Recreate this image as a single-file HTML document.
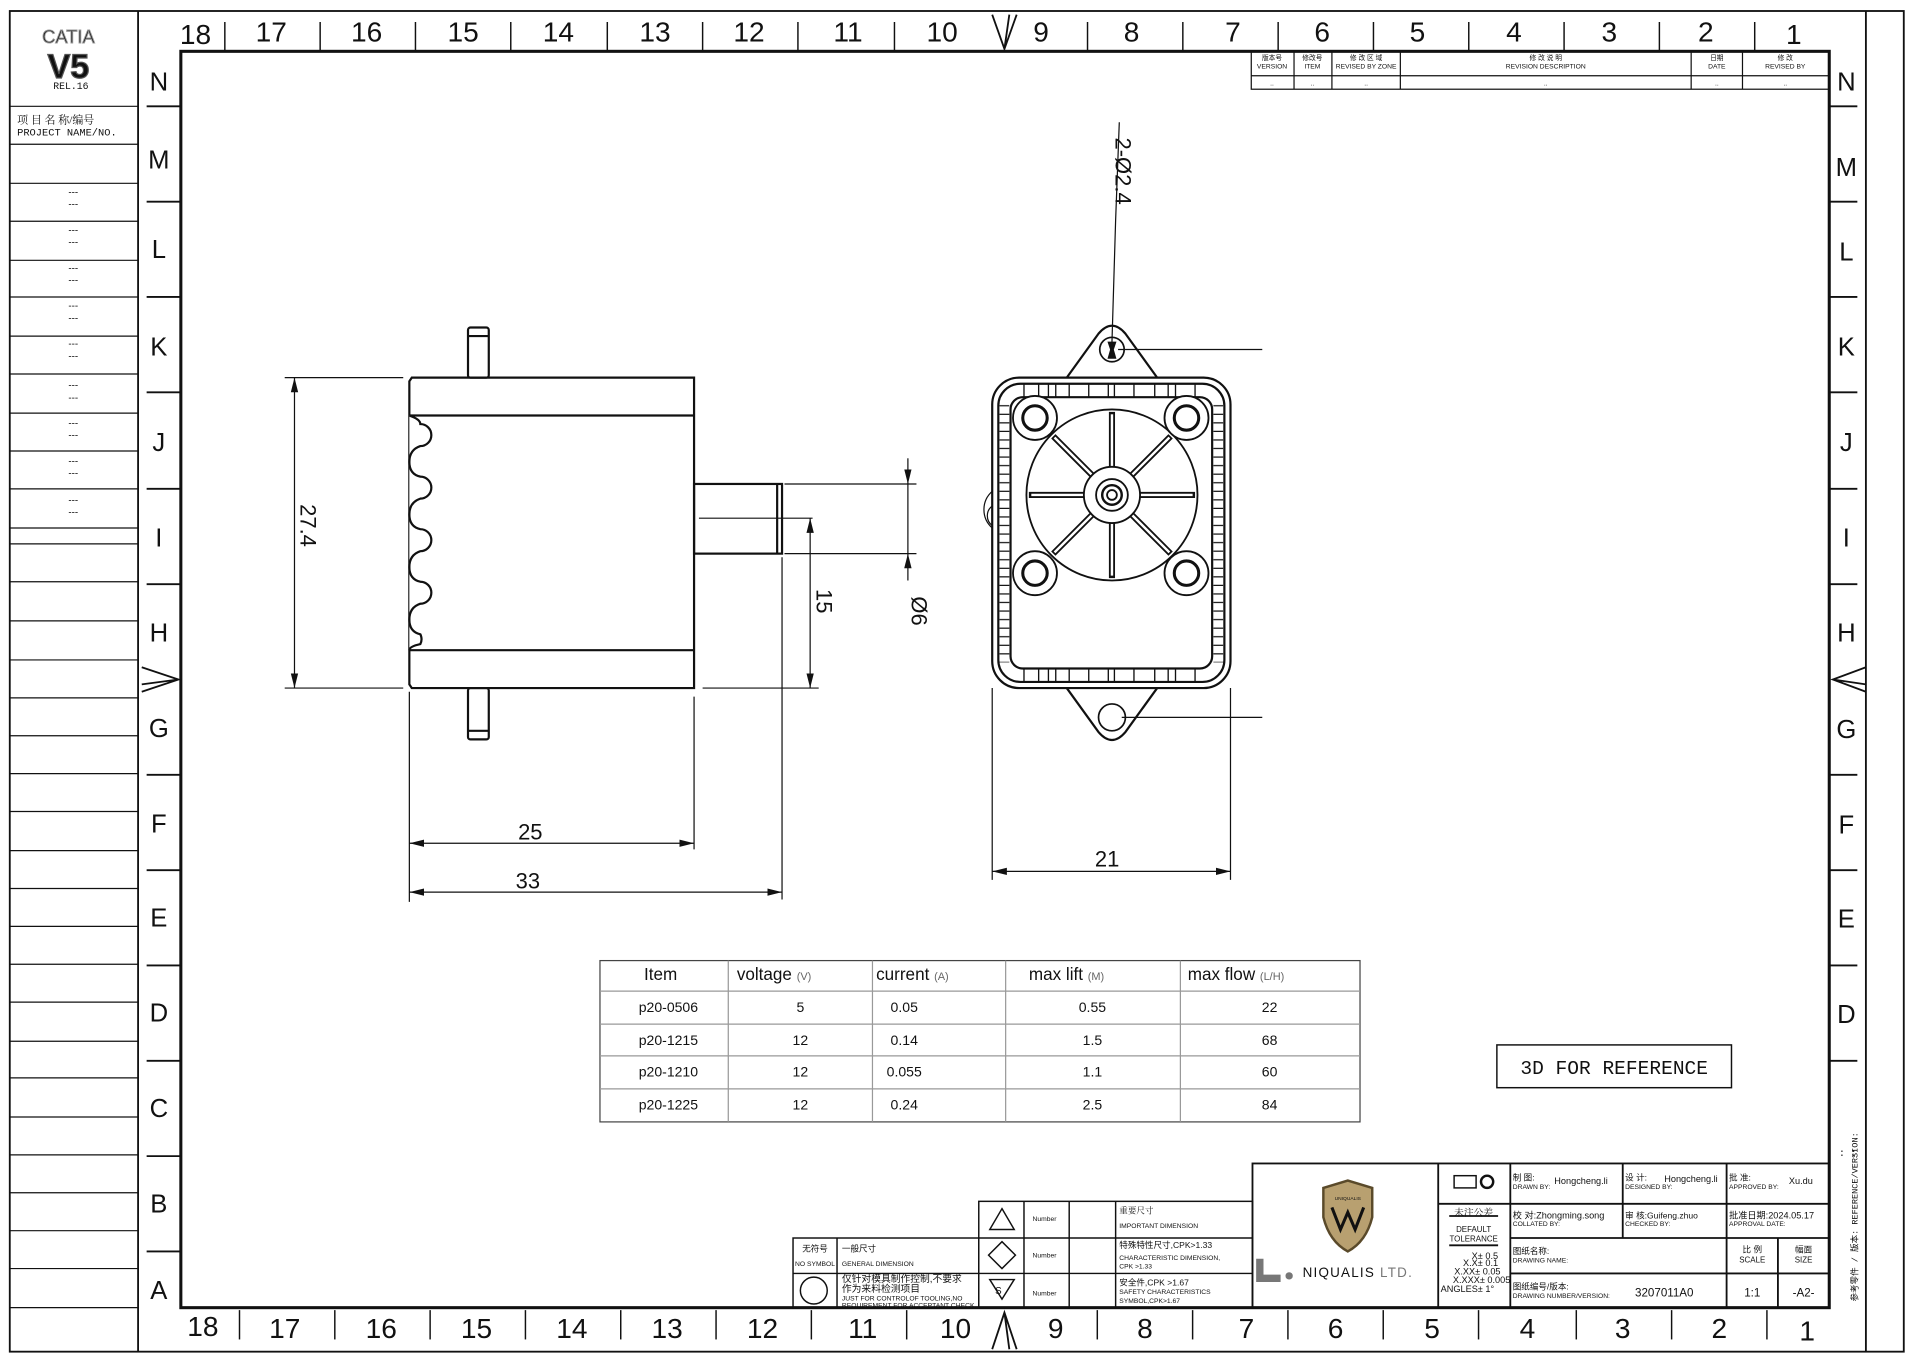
<!DOCTYPE html>
<html><head><meta charset="utf-8"><style>
html,body{margin:0;padding:0;background:#fff}
svg{display:block}
text{font-family:"Liberation Sans","Noto Sans CJK SC",sans-serif;fill:#111}
.m{font-family:"Liberation Mono","Noto Sans CJK SC",monospace}
.s{font-family:"Liberation Serif","Noto Serif CJK SC",serif}
</style></head><body>
<svg width="1916" height="1359" viewBox="0 0 1568 1112" preserveAspectRatio="none" xmlns="http://www.w3.org/2000/svg">
<defs>
<pattern id="hp" width="10" height="7" patternUnits="userSpaceOnUse"><line x1="0" y1="3" x2="10" y2="3" stroke="#111" stroke-width="1"/></pattern>
<pattern id="vp" width="8" height="10" patternUnits="userSpaceOnUse"><line x1="4" y1="0" x2="4" y2="10" stroke="#111" stroke-width="1"/></pattern>
<marker id="ar" markerWidth="12" markerHeight="8" refX="12" refY="4" orient="auto-start-reverse" markerUnits="userSpaceOnUse"><path d="M0,1 L12,4 L0,7 Z" fill="#111"/></marker>
</defs>
<g fill="none" stroke="#111">
<rect x="8" y="9" width="1550" height="1097" stroke-width="1.5"/>
<line x1="113" y1="9" x2="113" y2="1106" stroke-width="1.5"/>
<line x1="1527" y1="9" x2="1527" y2="1106" stroke-width="1.5"/>
<rect x="148" y="42" width="1349" height="1028" stroke-width="2.5"/>
<!-- top separators -->
<g stroke-width="1.2">
<line x1="184" y1="18" x2="184" y2="42"/><line x1="262" y1="18" x2="262" y2="42"/><line x1="340" y1="18" x2="340" y2="42"/><line x1="418" y1="18" x2="418" y2="42"/><line x1="497" y1="18" x2="497" y2="42"/><line x1="575" y1="18" x2="575" y2="42"/><line x1="653" y1="18" x2="653" y2="42"/><line x1="732" y1="18" x2="732" y2="42"/><line x1="890" y1="18" x2="890" y2="42"/><line x1="968" y1="18" x2="968" y2="42"/><line x1="1046" y1="18" x2="1046" y2="42"/><line x1="1124" y1="18" x2="1124" y2="42"/><line x1="1202" y1="18" x2="1202" y2="42"/><line x1="1280" y1="18" x2="1280" y2="42"/><line x1="1358" y1="18" x2="1358" y2="42"/><line x1="1436" y1="18" x2="1436" y2="42"/>
<line x1="196" y1="1072" x2="196" y2="1096"/><line x1="274" y1="1072" x2="274" y2="1096"/><line x1="352" y1="1072" x2="352" y2="1096"/><line x1="430" y1="1072" x2="430" y2="1096"/><line x1="508" y1="1072" x2="508" y2="1096"/><line x1="586" y1="1072" x2="586" y2="1096"/><line x1="664" y1="1072" x2="664" y2="1096"/><line x1="742" y1="1072" x2="742" y2="1096"/><line x1="898" y1="1072" x2="898" y2="1096"/><line x1="976" y1="1072" x2="976" y2="1096"/><line x1="1054" y1="1072" x2="1054" y2="1096"/><line x1="1132" y1="1072" x2="1132" y2="1096"/><line x1="1210" y1="1072" x2="1210" y2="1096"/><line x1="1290" y1="1072" x2="1290" y2="1096"/><line x1="1368" y1="1072" x2="1368" y2="1096"/><line x1="1446" y1="1072" x2="1446" y2="1096"/>
</g>
<!-- left/right letter separators -->
<g stroke-width="1.5">
<line x1="120" y1="87" x2="148" y2="87"/><line x1="120" y1="165" x2="148" y2="165"/><line x1="120" y1="243" x2="148" y2="243"/><line x1="120" y1="321" x2="148" y2="321"/><line x1="120" y1="400" x2="148" y2="400"/><line x1="120" y1="478" x2="148" y2="478"/><line x1="120" y1="634" x2="148" y2="634"/><line x1="120" y1="712" x2="148" y2="712"/><line x1="120" y1="790" x2="148" y2="790"/><line x1="120" y1="868" x2="148" y2="868"/><line x1="120" y1="946" x2="148" y2="946"/><line x1="120" y1="1024" x2="148" y2="1024"/>
<line x1="1497" y1="87" x2="1520" y2="87"/><line x1="1497" y1="165" x2="1520" y2="165"/><line x1="1497" y1="243" x2="1520" y2="243"/><line x1="1497" y1="321" x2="1520" y2="321"/><line x1="1497" y1="400" x2="1520" y2="400"/><line x1="1497" y1="478" x2="1520" y2="478"/><line x1="1497" y1="634" x2="1520" y2="634"/><line x1="1497" y1="712" x2="1520" y2="712"/><line x1="1497" y1="790" x2="1520" y2="790"/><line x1="1497" y1="868" x2="1520" y2="868"/>
</g>
<!-- center arrows -->
<path d="M812,12 L822,40 L832,12 M822,40 L826,12" stroke-width="1.5"/>
<path d="M812,1104 L822,1074 L832,1104 M822,1074 L826,1104" stroke-width="1.5"/>
<path d="M116,546 L146,556 L116,566 M146,556 L116,560" stroke-width="1.5"/>
<path d="M1527,546 L1500,556 L1527,566 M1500,556 L1527,560" stroke-width="1.5"/>
<!-- left column -->
<g stroke-width="1">
<line x1="8" y1="87" x2="113" y2="87"/><line x1="8" y1="118" x2="113" y2="118"/><line x1="8" y1="150" x2="113" y2="150"/><line x1="8" y1="181" x2="113" y2="181"/><line x1="8" y1="213" x2="113" y2="213"/><line x1="8" y1="243" x2="113" y2="243"/><line x1="8" y1="275" x2="113" y2="275"/><line x1="8" y1="306" x2="113" y2="306"/><line x1="8" y1="338" x2="113" y2="338"/><line x1="8" y1="369" x2="113" y2="369"/><line x1="8" y1="400" x2="113" y2="400"/><line x1="8" y1="432" x2="113" y2="432"/><line x1="8" y1="445" x2="113" y2="445"/><line x1="8" y1="476" x2="113" y2="476"/><line x1="8" y1="508" x2="113" y2="508"/><line x1="8" y1="540" x2="113" y2="540"/><line x1="8" y1="571" x2="113" y2="571"/><line x1="8" y1="602" x2="113" y2="602"/><line x1="8" y1="633" x2="113" y2="633"/><line x1="8" y1="664" x2="113" y2="664"/><line x1="8" y1="696" x2="113" y2="696"/><line x1="8" y1="727" x2="113" y2="727"/><line x1="8" y1="758" x2="113" y2="758"/><line x1="8" y1="789" x2="113" y2="789"/><line x1="8" y1="820" x2="113" y2="820"/><line x1="8" y1="852" x2="113" y2="852"/><line x1="8" y1="882" x2="113" y2="882"/><line x1="8" y1="914" x2="113" y2="914"/><line x1="8" y1="945" x2="113" y2="945"/><line x1="8" y1="976" x2="113" y2="976"/><line x1="8" y1="1007" x2="113" y2="1007"/><line x1="8" y1="1038" x2="113" y2="1038"/><line x1="8" y1="1070" x2="113" y2="1070"/>
</g>
<!-- revision table -->
<g stroke-width="1">
<rect x="1024" y="42" width="473" height="31"/>
<line x1="1024" y1="62" x2="1497" y2="62"/>
<line x1="1059" y1="42" x2="1059" y2="73"/><line x1="1090" y1="42" x2="1090" y2="73"/><line x1="1146" y1="42" x2="1146" y2="73"/><line x1="1384" y1="42" x2="1384" y2="73"/><line x1="1426" y1="42" x2="1426" y2="73"/>
</g>
<!-- title block -->
<g stroke-width="1.5">
<rect x="1025" y="952" width="472" height="118"/>
<line x1="1177" y1="952" x2="1177" y2="1070"/><line x1="1236" y1="952" x2="1236" y2="1070"/>
<line x1="1177" y1="985" x2="1497" y2="985"/><line x1="1236" y1="1013" x2="1497" y2="1013"/><line x1="1236" y1="1042" x2="1497" y2="1042"/>
<line x1="1328" y1="952" x2="1328" y2="1013"/><line x1="1413" y1="952" x2="1413" y2="1070"/><line x1="1455" y1="1013" x2="1455" y2="1070"/>
<line x1="1186" y1="995" x2="1226" y2="995"/><line x1="1186" y1="1019" x2="1226" y2="1019"/>
</g>
<!-- symbols table -->
<g stroke-width="1.2">
<rect x="801" y="983" width="224" height="87"/>
<line x1="801" y1="1013" x2="1025" y2="1013"/><line x1="801" y1="1042" x2="1025" y2="1042"/>
<line x1="838" y1="983" x2="838" y2="1070"/><line x1="875" y1="983" x2="875" y2="1070"/><line x1="913" y1="983" x2="913" y2="1070"/>
<rect x="649" y="1013" width="152" height="57"/>
<line x1="649" y1="1042" x2="801" y2="1042"/><line x1="685" y1="1013" x2="685" y2="1070"/>
<path d="M820,989 L830,1006 L810,1006 Z"/>
<path d="M820,1016 L831,1027 L820,1038 L809,1027 Z"/>
<path d="M810,1047 L830,1047 L820,1063 Z"/>
<circle cx="666" cy="1056" r="11"/>
</g>
<!-- logo -->
<path d="M1083,972 L1103,966 L1123,972 L1123,996 Q1118,1016 1103,1024 Q1088,1016 1083,996 Z" fill="#b8a070" stroke="#5a4a2a" stroke-width="2"/>
<path d="M1090,988 L1097,1006 L1103,992 L1109,1006 L1116,988" stroke="#111" stroke-width="2.5"/>
<path d="M1031,1030 L1031,1046 L1048,1046" stroke="#777" stroke-width="6"/>
<circle cx="1055" cy="1044" r="3" fill="#777" stroke="none"/>
<rect x="1190" y="962" width="18" height="10" stroke-width="1.2"/><circle cx="1217" cy="967" r="5" stroke-width="2"/>
<!-- LEFT VIEW -->
<g stroke-width="1.8">
<rect x="383" y="268" width="17" height="41" rx="2"/><line x1="383" y1="275" x2="400" y2="275"/>
<rect x="383" y="563" width="17" height="42" rx="2"/><line x1="383" y1="598" x2="400" y2="598"/>
<path d="M337,309 L568,309 L568,563 L337,563 L335,560 L335,312 Z"/>
<line x1="335" y1="340" x2="568" y2="340"/><line x1="335" y1="532" x2="568" y2="532"/>
<path d="M335,340 Q344,343 344,347 A9,9 0 0 1 344,365 Q335,368 335,378 Q335,388 344,390 A9,9 0 0 1 344,408 Q335,411 335,421 Q335,431 344,433 A9,9 0 0 1 344,451 Q335,454 335,464 Q335,474 344,476 A9,9 0 0 1 344,494 Q335,497 335,507 Q335,517 344,519 A9,9 0 0 1 344,527 Q335,529 335,532" fill="#fff"/>
<rect x="568" y="396" width="72" height="57"/><line x1="636" y1="396" x2="636" y2="453"/>
</g>
<g stroke-width="1">
<line x1="572" y1="424" x2="665" y2="424"/>
<line x1="233" y1="309" x2="330" y2="309"/><line x1="233" y1="563" x2="330" y2="563"/>
<line x1="241" y1="309" x2="241" y2="563" marker-start="url(#ar)" marker-end="url(#ar)"/>
<line x1="575" y1="563" x2="670" y2="563"/>
<line x1="663" y1="424" x2="663" y2="563" marker-start="url(#ar)" marker-end="url(#ar)"/>
<line x1="642" y1="396" x2="750" y2="396"/><line x1="642" y1="453" x2="750" y2="453"/>
<line x1="743" y1="375" x2="743" y2="396" marker-end="url(#ar)"/><line x1="743" y1="475" x2="743" y2="453" marker-end="url(#ar)"/><line x1="743" y1="396" x2="743" y2="453"/>
<line x1="335" y1="566" x2="335" y2="738"/><line x1="568" y1="570" x2="568" y2="695"/><line x1="640" y1="456" x2="640" y2="736"/>
<line x1="335" y1="690" x2="568" y2="690" marker-start="url(#ar)" marker-end="url(#ar)"/>
<line x1="335" y1="730" x2="640" y2="730" marker-start="url(#ar)" marker-end="url(#ar)"/>
</g>
<!-- RIGHT VIEW -->
<g stroke-width="1.8">
<path d="M873,309 L899,273 Q910,260 921,273 L947,309"/>
<path d="M873,563 L899,599 Q910,612 921,599 L947,563"/>
<circle cx="910" cy="286" r="10" stroke-width="1.4"/>
<circle cx="910" cy="587" r="11" stroke-width="1.4"/>
<path d="M907,280 L913,280 L911,286 L913,293 L907,293 L909,286 Z" fill="#111" stroke-width="1"/>
<path d="M812,432 A20,20 0 0 1 812,402" stroke-width="1"/>
<path d="M812,430 A10,10 0 0 1 812,414" stroke-width="1"/>
<rect x="812" y="309" width="195" height="254" rx="22" fill="#fff"/>
<rect x="817" y="314" width="185" height="244" rx="18"/>
<rect x="827" y="325" width="165" height="222" rx="10" fill="#fff"/>
</g>
<rect x="818" y="330" width="8" height="212" fill="url(#hp)" stroke="none"/>
<rect x="993" y="330" width="8" height="212" fill="url(#hp)" stroke="none"/>
<g stroke-width="1.1">
<line x1="838" y1="314" x2="838" y2="325"/><line x1="850" y1="314" x2="850" y2="325"/><line x1="858" y1="314" x2="858" y2="325"/><line x1="864" y1="314" x2="864" y2="325"/><line x1="875" y1="314" x2="875" y2="325"/><line x1="891" y1="314" x2="891" y2="325"/><line x1="907" y1="314" x2="907" y2="325"/><line x1="912" y1="314" x2="912" y2="325"/><line x1="928" y1="314" x2="928" y2="325"/><line x1="945" y1="314" x2="945" y2="325"/><line x1="956" y1="314" x2="956" y2="325"/><line x1="962" y1="314" x2="962" y2="325"/><line x1="978" y1="314" x2="978" y2="325"/>
<line x1="838" y1="547" x2="838" y2="558"/><line x1="850" y1="547" x2="850" y2="558"/><line x1="858" y1="547" x2="858" y2="558"/><line x1="864" y1="547" x2="864" y2="558"/><line x1="875" y1="547" x2="875" y2="558"/><line x1="891" y1="547" x2="891" y2="558"/><line x1="907" y1="547" x2="907" y2="558"/><line x1="912" y1="547" x2="912" y2="558"/><line x1="928" y1="547" x2="928" y2="558"/><line x1="945" y1="547" x2="945" y2="558"/><line x1="956" y1="547" x2="956" y2="558"/><line x1="962" y1="547" x2="962" y2="558"/><line x1="978" y1="547" x2="978" y2="558"/>
</g>
<g stroke-width="1.5">
<circle cx="910" cy="405" r="70"/>
<g stroke-width="5" stroke="#111"><line x1="910" y1="337" x2="910" y2="382"/><line x1="910" y1="428" x2="910" y2="473"/><line x1="842" y1="405" x2="887" y2="405"/><line x1="933" y1="405" x2="978" y2="405"/><line x1="862" y1="357" x2="894" y2="389"/><line x1="926" y1="421" x2="958" y2="453"/><line x1="958" y1="357" x2="926" y2="389"/><line x1="894" y1="421" x2="862" y2="453"/></g>
<g stroke-width="2" stroke="#fff"><line x1="910" y1="339" x2="910" y2="382"/><line x1="910" y1="428" x2="910" y2="471"/><line x1="844" y1="405" x2="887" y2="405"/><line x1="933" y1="405" x2="976" y2="405"/><line x1="863" y1="358" x2="894" y2="389"/><line x1="926" y1="421" x2="957" y2="452"/><line x1="957" y1="358" x2="926" y2="389"/><line x1="894" y1="421" x2="863" y2="452"/></g>
<circle cx="910" cy="405" r="23" fill="#fff"/>
<circle cx="910" cy="405" r="13"/><circle cx="910" cy="405" r="8" stroke-width="2"/><circle cx="910" cy="405" r="4"/>
<circle cx="847" cy="342" r="18" fill="#fff"/><circle cx="847" cy="342" r="10" stroke-width="2.5"/>
<circle cx="971" cy="342" r="18" fill="#fff"/><circle cx="971" cy="342" r="10" stroke-width="2.5"/>
<circle cx="847" cy="469" r="18" fill="#fff"/><circle cx="847" cy="469" r="10" stroke-width="2.5"/>
<circle cx="971" cy="469" r="18" fill="#fff"/><circle cx="971" cy="469" r="10" stroke-width="2.5"/>
</g>
<g stroke-width="1">
<line x1="915" y1="286" x2="1033" y2="286"/><line x1="918" y1="587" x2="1033" y2="587"/>
<path d="M910,280 L913,180 L916,100"/>
<line x1="812" y1="563" x2="812" y2="720"/><line x1="1007" y1="563" x2="1007" y2="720"/>
<line x1="812" y1="713" x2="1007" y2="713" marker-start="url(#ar)" marker-end="url(#ar)"/>
</g>
<!-- data table -->
<g stroke="#999" stroke-width="1">
<rect x="491" y="786" width="622" height="132" stroke="#444"/>
<line x1="491" y1="811" x2="1113" y2="811"/><line x1="491" y1="838" x2="1113" y2="838"/><line x1="491" y1="864" x2="1113" y2="864"/><line x1="491" y1="891" x2="1113" y2="891"/>
<line x1="596" y1="786" x2="596" y2="918"/><line x1="714" y1="786" x2="714" y2="918"/><line x1="823" y1="786" x2="823" y2="918"/><line x1="966" y1="786" x2="966" y2="918"/>
</g>
<rect x="1225" y="855" width="192" height="35" stroke-width="1.2"/>
</g>

<!-- TEXT -->
<g font-size="23">
<text x="160" y="36" text-anchor="middle">18</text><text x="222" y="34" text-anchor="middle">17</text><text x="300" y="34" text-anchor="middle">16</text><text x="379" y="34" text-anchor="middle">15</text><text x="457" y="34" text-anchor="middle">14</text><text x="536" y="34" text-anchor="middle">13</text><text x="613" y="34" text-anchor="middle">12</text><text x="694" y="34" text-anchor="middle">11</text><text x="771" y="34" text-anchor="middle">10</text><text x="852" y="34" text-anchor="middle">9</text><text x="926" y="34" text-anchor="middle">8</text><text x="1009" y="34" text-anchor="middle">7</text><text x="1082" y="34" text-anchor="middle">6</text><text x="1160" y="34" text-anchor="middle">5</text><text x="1239" y="34" text-anchor="middle">4</text><text x="1317" y="34" text-anchor="middle">3</text><text x="1396" y="34" text-anchor="middle">2</text><text x="1468" y="36" text-anchor="middle">1</text>
<text x="166" y="1093" text-anchor="middle">18</text><text x="233" y="1095" text-anchor="middle">17</text><text x="312" y="1095" text-anchor="middle">16</text><text x="390" y="1095" text-anchor="middle">15</text><text x="468" y="1095" text-anchor="middle">14</text><text x="546" y="1095" text-anchor="middle">13</text><text x="624" y="1095" text-anchor="middle">12</text><text x="706" y="1095" text-anchor="middle">11</text><text x="782" y="1095" text-anchor="middle">10</text><text x="864" y="1095" text-anchor="middle">9</text><text x="937" y="1095" text-anchor="middle">8</text><text x="1020" y="1095" text-anchor="middle">7</text><text x="1093" y="1095" text-anchor="middle">6</text><text x="1172" y="1095" text-anchor="middle">5</text><text x="1250" y="1095" text-anchor="middle">4</text><text x="1328" y="1095" text-anchor="middle">3</text><text x="1407" y="1095" text-anchor="middle">2</text><text x="1479" y="1097" text-anchor="middle">1</text>
</g>
<g font-size="21" text-anchor="middle">
<text x="130" y="74">N</text><text x="130" y="138">M</text><text x="130" y="211">L</text><text x="130" y="291">K</text><text x="130" y="369">J</text><text x="130" y="447">I</text><text x="130" y="525">H</text><text x="130" y="603">G</text><text x="130" y="681">F</text><text x="130" y="758">E</text><text x="130" y="836">D</text><text x="130" y="914">C</text><text x="130" y="992">B</text><text x="130" y="1063">A</text>
<text x="1511" y="74">N</text><text x="1511" y="144">M</text><text x="1511" y="213">L</text><text x="1511" y="291">K</text><text x="1511" y="369">J</text><text x="1511" y="447">I</text><text x="1511" y="525">H</text><text x="1511" y="604">G</text><text x="1511" y="682">F</text><text x="1511" y="759">E</text><text x="1511" y="837">D</text>
</g>
<!-- left column text -->
<text x="56" y="35" font-size="15" text-anchor="middle" fill="#fff" stroke="#999" stroke-width="0.8">CATIA</text>
<text x="56" y="64" font-size="28" font-weight="bold" text-anchor="middle" fill="#fff" stroke="#555" stroke-width="1">V5</text>
<text x="58" y="73" font-size="8" text-anchor="middle" class="m">REL.16</text>
<text x="14" y="101" font-size="9" class="s">项 目 名 称/编号</text>
<text x="14" y="111" font-size="8.5" class="m">PROJECT NAME/NO.</text>
<g font-size="8" text-anchor="middle" class="m">
<text x="60" y="160">---</text><text x="60" y="170">---</text>
<text x="60" y="191">---</text><text x="60" y="201">---</text>
<text x="60" y="222">---</text><text x="60" y="232">---</text>
<text x="60" y="253">---</text><text x="60" y="263">---</text>
<text x="60" y="284">---</text><text x="60" y="294">---</text>
<text x="60" y="318">---</text><text x="60" y="328">---</text>
<text x="60" y="349">---</text><text x="60" y="359">---</text>
<text x="60" y="380">---</text><text x="60" y="390">---</text>
<text x="60" y="412">---</text><text x="60" y="422">---</text>
</g>
<!-- revision text -->
<g font-size="5.5" text-anchor="middle" class="m">
<text x="1041" y="49">版本号</text><text x="1041" y="56">VERSION</text>
<text x="1074" y="49">修改号</text><text x="1074" y="56">ITEM</text>
<text x="1118" y="49">修 改 区 域</text><text x="1118" y="56">REVISED BY ZONE</text>
<text x="1265" y="49">修 改 说 明</text><text x="1265" y="56">REVISION DESCRIPTION</text>
<text x="1405" y="49">日期</text><text x="1405" y="56">DATE</text>
<text x="1461" y="49">修  改</text><text x="1461" y="56">REVISED BY</text>
<text x="1041" y="70">..</text><text x="1074" y="70">..</text><text x="1118" y="70">..</text><text x="1265" y="70">..</text><text x="1405" y="70">..</text><text x="1461" y="70">..</text>
</g>
<!-- dimension text -->
<g class="s" font-size="18" fill="#333">
<text transform="translate(246,430) rotate(90)" text-anchor="middle">27.4</text>
<text transform="translate(668,492) rotate(90)" text-anchor="middle">15</text>
<text transform="translate(746,500) rotate(90)" text-anchor="middle">Ø6</text>
<text transform="translate(913,140) rotate(90)" text-anchor="middle">2-Ø2.4</text>
<text x="434" y="687" text-anchor="middle">25</text>
<text x="432" y="727" text-anchor="middle">33</text>
<text x="906" y="709" text-anchor="middle">21</text>
</g>
<!-- data table text -->
<g font-size="14" text-anchor="start">
<text x="527" y="802">Item</text>
<text x="603" y="802">voltage <tspan font-size="9" fill="#666">(V)</tspan></text>
<text x="717" y="802">current <tspan font-size="9" fill="#666">(A)</tspan></text>
<text x="842" y="802">max lift <tspan font-size="9" fill="#666">(M)</tspan></text>
<text x="972" y="802">max flow <tspan font-size="9" fill="#666">(L/H)</tspan></text>
</g>
<g font-size="11.5" text-anchor="middle" fill="#555">
<text x="547" y="828" fill="#555">p20-0506</text><text x="655" y="828" fill="#555">5</text><text x="740" y="828" fill="#555">0.05</text><text x="894" y="828" fill="#555">0.55</text><text x="1039" y="828" fill="#555">22</text>
<text x="547" y="855" fill="#555">p20-1215</text><text x="655" y="855" fill="#555">12</text><text x="740" y="855" fill="#555">0.14</text><text x="894" y="855" fill="#555">1.5</text><text x="1039" y="855" fill="#555">68</text>
<text x="547" y="881" fill="#555">p20-1210</text><text x="655" y="881" fill="#555">12</text><text x="740" y="881" fill="#555">0.055</text><text x="894" y="881" fill="#555">1.1</text><text x="1039" y="881" fill="#555">60</text>
<text x="547" y="908" fill="#555">p20-1225</text><text x="655" y="908" fill="#555">12</text><text x="740" y="908" fill="#555">0.24</text><text x="894" y="908" fill="#555">2.5</text><text x="1039" y="908" fill="#555">84</text>
</g>
<text x="1321" y="879" font-size="16" text-anchor="middle" class="m">3D FOR REFERENCE</text>
<!-- symbols text -->
<g font-size="5.5" class="m">
<text x="845" y="999">Number</text><text x="845" y="1029">Number</text><text x="845" y="1060">Number</text>
<text x="916" y="993" font-size="7" class="s">重要尺寸</text><text x="916" y="1005">IMPORTANT DIMENSION</text>
<text x="916" y="1021" font-size="7">特殊特性尺寸,CPK&gt;1.33</text><text x="916" y="1031">CHARACTERISTIC DIMENSION,</text><text x="916" y="1038">CPK &gt;1.33</text>
<text x="916" y="1052" font-size="7">安全件,CPK &gt;1.67</text><text x="916" y="1059">SAFETY CHARACTERISTICS</text><text x="916" y="1066">SYMBOL,CPK&gt;1.67</text>
<text x="667" y="1024" text-anchor="middle" font-size="7">无符号</text><text x="667" y="1036" text-anchor="middle">NO SYMBOL</text>
<text x="689" y="1024" font-size="7">一般尺寸</text><text x="689" y="1036">GENERAL DIMENSION</text>
<text x="689" y="1049" font-size="8">仅针对模具制作控制,不要求</text><text x="689" y="1057" font-size="8">作为来料检测项目</text>
<text x="689" y="1064">JUST FOR CONTROLOF TOOLING,NO</text><text x="689" y="1070">REQUIREMENT FOR ACCEPTANT CHECK</text>
</g>
<text x="817" y="1059" font-size="8" text-anchor="middle">S</text>
<!-- title block text -->
<text x="1103" y="982" font-size="4" text-anchor="middle" fill="#fff">UNIQUALIS</text>
<text x="1066" y="1045" font-size="11" fill="#4a6a3a" letter-spacing="1">NIQUALIS <tspan fill="#777">LTD.</tspan></text>
<g class="m" font-size="5.5">
<text x="1206" y="995" font-size="8" text-anchor="middle" class="s">未注公差</text>
<text x="1206" y="1008" font-size="6.5" text-anchor="middle">DEFAULT</text><text x="1206" y="1016" font-size="6.5" text-anchor="middle">TOLERANCE</text>
<text x="1226" y="1030" font-size="7.5" text-anchor="end">X± 0.5</text><text x="1226" y="1036" font-size="7.5" text-anchor="end">X.X± 0.1</text><text x="1228" y="1043" font-size="7.5" text-anchor="end">X.XX± 0.05</text><text x="1236" y="1050" font-size="7.5" text-anchor="end">X.XXX± 0.005</text><text x="1179" y="1057" font-size="7.5">ANGLES± 1°</text>
<text x="1238" y="966" font-size="7">制  图:</text><text x="1238" y="973">DRAWN BY:</text><text x="1272" y="969" font-size="7.5">Hongcheng.li</text>
<text x="1330" y="966" font-size="7">设  计:</text><text x="1330" y="973">DESIGNED BY:</text><text x="1362" y="967" font-size="7.5">Hongcheng.li</text>
<text x="1415" y="966" font-size="7">批  准:</text><text x="1415" y="973">APPROVED BY:</text><text x="1464" y="969" font-size="7.5">Xu.du</text>
<text x="1238" y="997" font-size="7.5">校  对:Zhongming.song</text><text x="1238" y="1003">COLLATED BY:</text>
<text x="1330" y="997" font-size="7">审  核:Guifeng.zhuo</text><text x="1330" y="1003">CHECKED BY:</text>
<text x="1415" y="997" font-size="7.5">批准日期:2024.05.17</text><text x="1415" y="1003">APPROVAL DATE:</text>
<text x="1238" y="1026" font-size="7">图纸名称:</text><text x="1238" y="1033">DRAWING NAME:</text>
<text x="1434" y="1025" font-size="7" text-anchor="middle">比 例</text><text x="1434" y="1033" font-size="6.5" text-anchor="middle">SCALE</text>
<text x="1476" y="1025" font-size="7" text-anchor="middle">幅面</text><text x="1476" y="1033" font-size="6.5" text-anchor="middle">SIZE</text>
<text x="1238" y="1055" font-size="7">图纸编号/版本:</text><text x="1238" y="1062">DRAWING NUMBER/VERSION:</text>
</g>
<text x="1362" y="1061" font-size="9.5" text-anchor="middle">3207011A0</text>
<text x="1434" y="1061" font-size="9.5" text-anchor="middle">1:1</text>
<text x="1476" y="1061" font-size="9.5" text-anchor="middle">-A2-</text>
<text x="1505" y="946" font-size="8" class="m">: :</text>
<text transform="translate(1520,1065) rotate(-90)" font-size="7" class="m">参考零件 / 版本: REFERENCE/VERSION:</text>
</svg>
</body></html>
